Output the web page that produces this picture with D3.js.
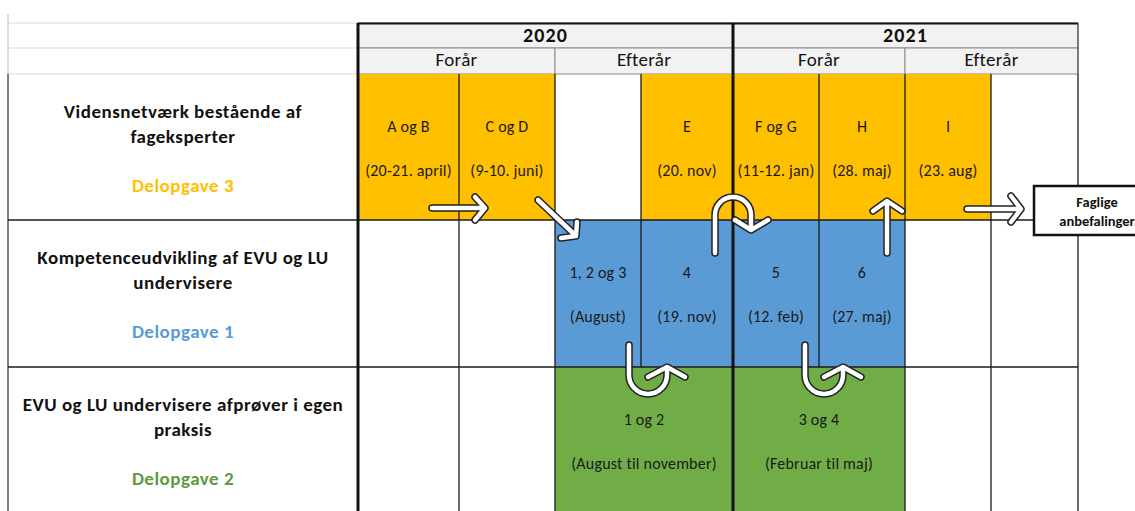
<!DOCTYPE html>
<html>
<head>
<meta charset="utf-8">
<script src="https://cdnjs.cloudflare.com/ajax/libs/d3/7.8.5/d3.min.js"></script>
<style>
  body { margin: 0; background: #fff; }
  svg { display: block; font-family: Calibri, Carlito, Lato, sans-serif; }
</style>
</head>
<body>
<svg id="plan" width="1135" height="511"></svg>
<script>
// --- data ---
var years = [
  { label: "2020", from: 0, to: 4 },
  { label: "2021", from: 4, to: 8 }
];
var seasons = ["Forår", "Efterår", "Forår", "Efterår"];

var rowTitles = [
  ["Vidensnetværk bestående af", "fageksperter"],
  ["Kompetenceudvikling af EVU og LU", "undervisere"],
  ["EVU og LU undervisere afprøver i egen", "praksis"]
];
var rowTasks = ["Delopgave 3", "Delopgave 1", "Delopgave 2"];
var rowColors = ["#ffc000", "#5b9bd5", "#70ad47"];
var rowTextColors = ["#ffc000", "#5b9bd5", "#5f9a3c"];

// cells: row, first column, last column (exclusive), two text lines
var cells = [
  { row: 0, c0: 0, c1: 1, top: "A og B", bottom: "(20-21. april)" },
  { row: 0, c0: 1, c1: 2, top: "C og D", bottom: "(9-10. juni)" },
  { row: 0, c0: 3, c1: 4, top: "E", bottom: "(20. nov)" },
  { row: 0, c0: 4, c1: 5, top: "F og G", bottom: "(11-12. jan)" },
  { row: 0, c0: 5, c1: 6, top: "H", bottom: "(28. maj)" },
  { row: 0, c0: 6, c1: 7, top: "I", bottom: "(23. aug)" },
  { row: 1, c0: 2, c1: 3, top: "1, 2 og 3", bottom: "(August)" },
  { row: 1, c0: 3, c1: 4, top: "4", bottom: "(19. nov)" },
  { row: 1, c0: 4, c1: 5, top: "5", bottom: "(12. feb)" },
  { row: 1, c0: 5, c1: 6, top: "6", bottom: "(27. maj)" },
  { row: 2, c0: 2, c1: 4, top: "1 og 2", bottom: "(August til november)" },
  { row: 2, c0: 4, c1: 6, top: "3 og 4", bottom: "(Februar til maj)" }
];

var outcome = ["Faglige", "anbefalinger"];

// --- layout ---
var svg = d3.select("#plan");
var x = d3.scaleLinear()
  .domain([0, 1, 2, 3, 4, 5, 6, 7, 8])
  .range([358, 459, 555, 641, 733, 819, 905, 991, 1078]);
var y = d3.scaleLinear().domain([0, 1, 2, 3]).range([74, 220, 367, 514]);
var labelX = 183, gridLeft = 8;

// header grid on the label side (spreadsheet gridlines)
svg.selectAll(".grid").data([23, 48, 74]).enter().append("line")
  .attr("x1", gridLeft).attr("x2", x(0))
  .attr("y1", function(d) { return d; }).attr("y2", function(d) { return d; })
  .attr("stroke", "#d9d9d9").attr("stroke-width", 1.2);
svg.append("line").attr("x1", gridLeft).attr("x2", gridLeft).attr("y1", 14).attr("y2", 74)
  .attr("stroke", "#cfcfcf").attr("stroke-width", 1.5);
svg.append("line").attr("x1", gridLeft).attr("x2", gridLeft).attr("y1", 74).attr("y2", 511)
  .attr("stroke", "#555").attr("stroke-width", 1.5);

// header cells
svg.selectAll(".yearcell").data(years).enter().append("rect")
  .attr("x", function(d) { return x(d.from); }).attr("y", 23)
  .attr("width", function(d) { return x(d.to) - x(d.from); }).attr("height", 25)
  .attr("fill", "#f2f2f2").attr("stroke", "#8a8a8a");
svg.selectAll(".seasoncell").data(seasons).enter().append("rect")
  .attr("x", function(d, i) { return x(i * 2); }).attr("y", 48)
  .attr("width", function(d, i) { return x(i * 2 + 2) - x(i * 2); }).attr("height", 26)
  .attr("fill", "#f2f2f2").attr("stroke", "#8a8a8a");
svg.selectAll(".yeartext").data(years).enter().append("text")
  .attr("x", function(d) { return (x(d.from) + x(d.to)) / 2; }).attr("y", 37)
  .attr("text-anchor", "middle").attr("dominant-baseline", "middle")
  .attr("font-size", 20).attr("font-weight", "bold").attr("letter-spacing", 1.1).attr("fill", "#111")
  .text(function(d) { return d.label; });
svg.selectAll(".seasontext").data(seasons).enter().append("text")
  .attr("x", function(d, i) { return (x(i * 2) + x(i * 2 + 2)) / 2; }).attr("y", 61)
  .attr("text-anchor", "middle").attr("dominant-baseline", "middle")
  .attr("font-size", 19).attr("letter-spacing", 0.3).attr("fill", "#111")
  .text(function(d) { return d; });
svg.append("line").attr("x1", x(0)).attr("x2", x(8)).attr("y1", 23.5).attr("y2", 23.5)
  .attr("stroke", "#111").attr("stroke-width", 2);

// coloured cells
svg.selectAll(".cell").data(cells).enter().append("rect")
  .attr("x", function(d) { return x(d.c0); })
  .attr("y", function(d) { return y(d.row); })
  .attr("width", function(d) { return x(d.c1) - x(d.c0); })
  .attr("height", function(d) { return y(d.row + 1) - y(d.row); })
  .attr("fill", function(d) { return rowColors[d.row]; });

// thin verticals: row-by-row, skip merged columns
[0, 1, 2].forEach(function(r) {
  d3.range(1, 9).forEach(function(c) {
    var merged = cells.some(function(d) { return d.row === r && d.c0 < c && d.c1 > c; });
    if (merged || c === 4) return;
    svg.append("line").attr("x1", x(c)).attr("x2", x(c))
      .attr("y1", y(r)).attr("y2", y(r + 1))
      .attr("stroke", "#1a1a1a").attr("stroke-width", 1.3);
  });
});
// row dividers (the first one runs on to the outcome box)
[1, 2].forEach(function(r) {
  svg.append("line").attr("x1", gridLeft).attr("x2", r === 1 ? x(8) + 20 : x(8))
    .attr("y1", y(r)).attr("y2", y(r))
    .attr("stroke", "#1a1a1a").attr("stroke-width", 1.3);
});
svg.append("line").attr("x1", x(8)).attr("x2", x(8)).attr("y1", 23).attr("y2", 74)
  .attr("stroke", "#555").attr("stroke-width", 1.3);
// thick year borders
[0, 4].forEach(function(c) {
  svg.append("line").attr("x1", x(c)).attr("x2", x(c)).attr("y1", 23).attr("y2", 511)
    .attr("stroke", "#111").attr("stroke-width", 3);
});

// row titles
rowTitles.forEach(function(lines, r) {
  var g = svg.append("g").attr("text-anchor", "middle")
    .attr("font-size", 19).attr("font-weight", "bold").attr("letter-spacing", 0.5);
  g.selectAll("text").data(lines).enter().append("text")
    .attr("x", labelX).attr("y", function(d, i) { return y(r) + 39 + i * 25; })
    .attr("dominant-baseline", "middle").attr("fill", "#111")
    .text(function(d) { return d; });
  g.append("text").attr("x", labelX).attr("y", y(r) + 113)
    .attr("dominant-baseline", "middle").attr("fill", rowTextColors[r])
    .text(rowTasks[r]);
});

// cell texts
var ct = svg.selectAll(".celltext").data(cells).enter().append("g")
  .attr("transform", function(d) { return "translate(" + (x(d.c0) + x(d.c1)) / 2 + "," + y(d.row) + ")"; })
  .attr("text-anchor", "middle").attr("font-size", 16).attr("letter-spacing", 0.2).attr("fill", "#1a1a1a");
ct.append("text").attr("y", 54).attr("dominant-baseline", "middle").text(function(d) { return d.top; });
ct.append("text").attr("y", 98).attr("dominant-baseline", "middle").text(function(d) { return d.bottom; });

// arrows (white with dark outline)
var arrows = [
  { shaft: "M432,208 L484,208", head: "M475,197 L485,208 L475,220" },
  { shaft: "M538,200 L574,234", head: "M577,222 L576,236 L561,238" },
  { shaft: "M715,253 L715,215 A18,18 0 0 1 751,215 L751,229", head: "M735,220 L751,230 L768,220" },
  { shaft: "M887,253 L887,204", head: "M873,211 L887,201 L902,211" },
  { shaft: "M967,209 L1019,209", head: "M1011,196 L1021,209 L1011,222" },
  { shaft: "M629,345 L629,375 A19,19 0 0 0 667,375 L667,369", head: "M648,377 L667,367 L685,377" },
  { shaft: "M805,345 L805,375 A19,19 0 0 0 843,375 L843,369", head: "M824,377 L843,367 L861,377" }
];
var ag = svg.append("g").attr("fill", "none").attr("stroke-linecap", "round").attr("stroke-linejoin", "round");
arrows.forEach(function(a) {
  [a.shaft, a.head].forEach(function(p) {
    ag.append("path").attr("d", p).attr("stroke", "#222").attr("stroke-width", 7.5);
  });
  [a.shaft, a.head].forEach(function(p) {
    ag.append("path").attr("d", p).attr("stroke", "#fff").attr("stroke-width", 4.5);
  });
});

// outcome box
svg.append("rect").attr("x", 1034).attr("y", 186).attr("width", 130).attr("height", 49)
  .attr("fill", "#fff").attr("stroke", "#111").attr("stroke-width", 2.5);
svg.selectAll(".outcome").data(outcome).enter().append("text")
  .attr("x", 1097).attr("y", function(d, i) { return 203 + i * 19; })
  .attr("text-anchor", "middle").attr("dominant-baseline", "middle")
  .attr("font-size", 14.5).attr("font-weight", "bold").attr("fill", "#111")
  .text(function(d) { return d; });
</script>
</body>
</html>
